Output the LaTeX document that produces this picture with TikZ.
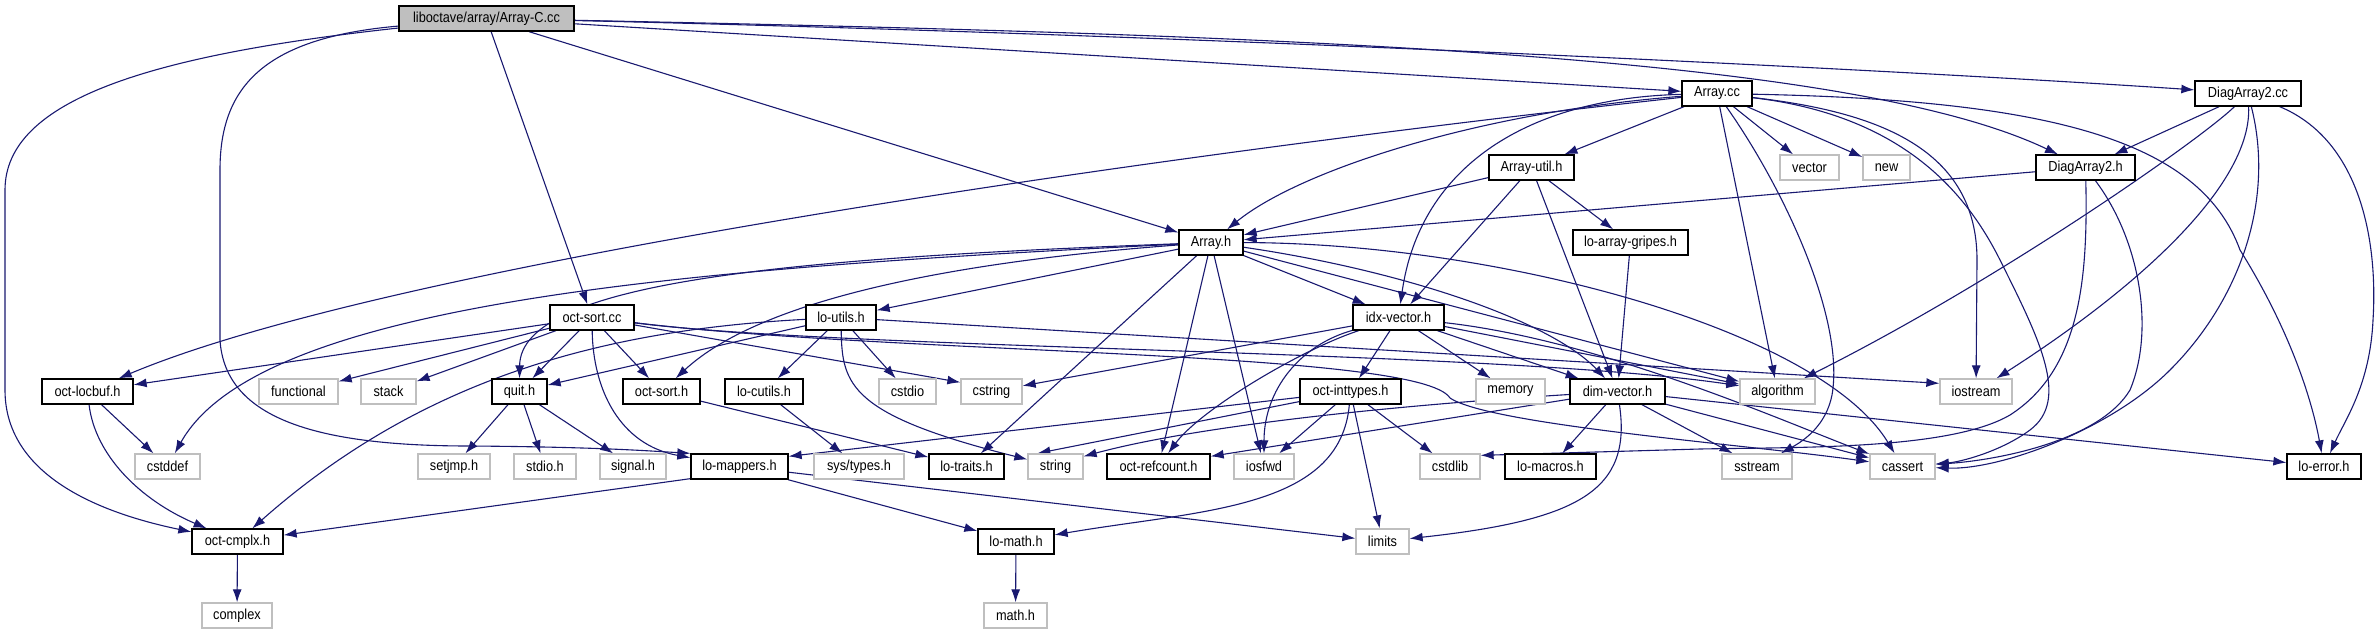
\documentclass[tikz,border=0pt]{standalone}
\usepackage{fontspec}
\setmainfont{Liberation Sans}[FakeStretch=0.88]
\usetikzlibrary{arrows.meta}
\definecolor{edgec}{HTML}{191970}
\definecolor{greyc}{HTML}{BFBFBF}
\pgfdeclarelayer{bg}
\pgfsetlayers{bg,main}
\begin{document}
\begin{tikzpicture}[x=1pt,y=-1pt,
  box/.style={rectangle, inner sep=0pt, minimum height=25pt, font=\fontsize{14.5pt}{16pt}\selectfont, line width=1.3pt, fill=white},
  doc/.style={box, draw=black},
  sys/.style={box, draw=greyc},
  root/.style={box, draw=black, fill=greyc},
  edg/.style={draw=edgec, line width=1.1pt, -{Latex[length=13pt,width=9pt]}}]
\useasboundingbox (0,0) rectangle (2380,635);
% row 0-4
\node[root, minimum width=175] (lib) at (486.5,18.5) {liboctave/array/Array-C.cc};
\node[doc, minimum width=70] (arraycc) at (1717,93.5) {Array.cc};
\node[doc, minimum width=106] (diagcc) at (2248,93.5) {DiagArray2.cc};
\node[doc, minimum width=85] (arrutil) at (1531.5,167.5) {Array-util.h};
\node[sys, minimum width=59] (vector) at (1809.5,167.5) {vector};
\node[sys, minimum width=47] (new) at (1886.5,167.5) {new};
\node[doc, minimum width=99] (diagh) at (2085.5,167.5) {DiagArray2.h};
\node[doc, minimum width=64] (arrayh) at (1211,242.5) {Array.h};
\node[doc, minimum width=115] (gripes) at (1630.5,242.5) {lo-array-gripes.h};
\node[doc, minimum width=84] (octsortcc) at (592,317.5) {oct-sort.cc};
\node[doc, minimum width=70] (loutils) at (841,317.5) {lo-utils.h};
\node[doc, minimum width=91] (idxvec) at (1398.5,317.5) {idx-vector.h};
% row 5
\node[doc, minimum width=91] (octlocbuf) at (87.5,391.5) {oct-locbuf.h};
\node[sys, minimum width=79] (functional) at (298.5,391.5) {functional};
\node[sys, minimum width=55] (stack) at (388.5,391.5) {stack};
\node[doc, minimum width=55] (quith) at (519.5,391.5) {quit.h};
\node[doc, minimum width=77] (octsorth) at (661.5,391.5) {oct-sort.h};
\node[doc, minimum width=78] (locutils) at (764,391.5) {lo-cutils.h};
\node[sys, minimum width=57] (cstdio) at (907.5,391.5) {cstdio};
\node[sys, minimum width=61] (cstring) at (991.5,391.5) {cstring};
\node[doc, minimum width=101] (inttypes) at (1350.5,391.5) {oct-inttypes.h};
\node[sys, minimum width=69] (memory) at (1510.5,391.5) {memory};
\node[doc, minimum width=95] (dimvec) at (1617.5,391.5) {dim-vector.h};
\node[sys, minimum width=75] (algorithm) at (1777.5,391.5) {algorithm};
\node[sys, minimum width=72] (iostream) at (1976,391.5) {iostream};
% row 6
\node[sys, minimum width=65] (cstddef) at (167.5,466.5) {cstddef};
\node[sys, minimum width=72] (setjmp) at (454,466.5) {setjmp.h};
\node[sys, minimum width=62] (stdio) at (545,466.5) {stdio.h};
\node[sys, minimum width=66] (signal) at (633,466.5) {signal.h};
\node[doc, minimum width=97] (lomappers) at (739.5,466.5) {lo-mappers.h};
\node[sys, minimum width=90] (systypes) at (859,466.5) {sys/types.h};
\node[doc, minimum width=75] (lotraits) at (966.5,466.5) {lo-traits.h};
\node[sys, minimum width=55] (string) at (1055.5,466.5) {string};
\node[doc, minimum width=103] (refcount) at (1158.5,466.5) {oct-refcount.h};
\node[sys, minimum width=60] (iosfwd) at (1264,466.5) {iosfwd};
\node[sys, minimum width=60] (cstdlib) at (1450,466.5) {cstdlib};
\node[doc, minimum width=91] (lomacros) at (1550.5,466.5) {lo-macros.h};
\node[sys, minimum width=70] (sstream) at (1757,466.5) {sstream};
\node[sys, minimum width=65] (cassert) at (1902.5,466.5) {cassert};
\node[doc, minimum width=74] (loerror) at (2324,466.5) {lo-error.h};
% row 7-8
\node[doc, minimum width=91] (cmplx) at (237.5,541.5) {oct-cmplx.h};
\node[doc, minimum width=76] (lomath) at (1016,541.5) {lo-math.h};
\node[sys, minimum width=53] (limits) at (1382.5,541.5) {limits};
\node[sys, minimum width=70] (complex) at (237,615.5) {complex};
\node[sys, minimum width=63] (mathh) at (1015.5,615.5) {math.h};

\begin{pgfonlayer}{bg}
% root
\draw[edg] (lib) -- (arrayh);
\draw[edg] (lib) -- (octsortcc);
\draw[edg] (lib) -- (arraycc);
\draw[edg] (lib) .. controls (1200,35) and (1900,70) .. (diagcc);
\draw[edg] (lib) .. controls (1300,35) and (1850,55) .. (diagh);
\draw[edg] (lib) .. controls (260,38) and (220,90) .. (220,170) -- (220,340) .. controls (225,420) and (320,446) .. (470,446) .. controls (600,447) and (650,451) .. (lomappers.north west);
\draw[edg] (lib) .. controls (150,55) and (5,100) .. (5,190) -- (5,390) .. controls (5,480) and (110,515) .. (cmplx);
% Array.cc
\draw[edg] (arraycc) .. controls (1480,112) and (1300,170) .. (arrayh);
\draw[edg] (arraycc) .. controls (1530,98) and (1420,165) .. (idxvec);
\draw[edg] (arraycc) .. controls (1200,150) and (400,260) .. (octlocbuf);
\draw[edg] (arraycc) -- (arrutil);
\draw[edg] (arraycc) -- (vector);
\draw[edg] (arraycc) -- (new);
\draw[edg] (arraycc) -- (algorithm);
\draw[edg] (arraycc) .. controls (1785,190) and (1845,320) .. (1832,395) .. controls (1826,425) and (1805,440) .. (sstream);
\draw[edg] (arraycc) .. controls (1880,112) and (1977,150) .. (1977,260) -- (iostream);
\draw[edg] (arraycc) .. controls (1900,115) and (1965,190) .. (2000,260) .. controls (2040,340) and (2070,400) .. (2030,430) .. controls (2000,452) and (1960,462) .. (cassert);
\draw[edg] (arraycc) .. controls (2050,100) and (2200,140) .. (2240,250) .. controls (2290,330) and (2312,400) .. (loerror);
% DiagArray2.cc
\draw[edg] (diagcc) -- (diagh);
\draw[edg] (diagcc) .. controls (2200,140) and (2000,280) .. (algorithm);
\draw[edg] (diagcc) .. controls (2252,180) and (2150,280) .. (iostream);
\draw[edg] (diagcc) .. controls (2275,200) and (2240,300) .. (2170,370) .. controls (2110,430) and (2000,470) .. (cassert);
\draw[edg] (diagcc) .. controls (2360,140) and (2378,240) .. (2373,320) .. controls (2370,385) and (2345,420) .. (loerror);
% DiagArray2.h
\draw[edg] (diagh) -- (arrayh);
\draw[edg] (diagh) .. controls (2088,280) and (2080,370) .. (2010,415) .. controls (1950,450) and (1800,447) .. (1700,449) -- ([yshift=-2pt]cstdlib.north east);
\draw[edg] (diagh) .. controls (2140,240) and (2155,330) .. (2130,390) .. controls (2100,440) and (2000,460) .. (cassert);
% Array-util.h
\draw[edg] (arrutil) -- (arrayh);
\draw[edg] (arrutil) -- (idxvec);
\draw[edg] (arrutil) -- (dimvec);
\draw[edg] (arrutil) -- (gripes);
% Array.h
\draw[edg] (arrayh) -- (loutils);
\draw[edg] (arrayh) .. controls (800,258) and (520,280) .. (quith);
\draw[edg] (arrayh) .. controls (700,268) and (260,300) .. (cstddef);
\draw[edg] (arrayh) .. controls (950,262) and (760,300) .. (octsorth);
\draw[edg] (arrayh) -- (lotraits);
\draw[edg] (arrayh) -- (refcount);
\draw[edg] (arrayh) -- (iosfwd);
\draw[edg] (arrayh) -- (idxvec);
\draw[edg] (arrayh) .. controls (1400,270) and (1550,320) .. (dimvec);
\draw[edg] (arrayh) -- (algorithm);
\draw[edg] (arrayh) .. controls (1500,243) and (1820,330) .. (cassert);
% idx-vector.h
\draw[edg] (idxvec) -- (cstring);
\draw[edg] (idxvec) .. controls (1300,350) and (1200,410) .. (refcount);
\draw[edg] (idxvec) .. controls (1300,345) and (1264,390) .. (iosfwd);
\draw[edg] (idxvec) -- (inttypes);
\draw[edg] (idxvec) -- (memory);
\draw[edg] (idxvec) -- (dimvec);
\draw[edg] (idxvec) -- (algorithm);
\draw[edg] (idxvec) .. controls (1600,340) and (1780,420) .. (cassert);
% oct-inttypes.h
\draw[edg] (inttypes) -- ([yshift=-3pt]lomappers.north east);
\draw[edg] (inttypes) -- ([xshift=10pt]string.north west);
\draw[edg] (inttypes) -- (iosfwd);
\draw[edg] (inttypes) -- (cstdlib);
\draw[edg] (inttypes) -- (limits);
\draw[edg] (inttypes) .. controls (1340,510) and (1200,510) .. (lomath);
% dim-vector.h
\draw[edg] (dimvec) -- (lomacros);
\draw[edg] (dimvec) .. controls (1632,490) and (1580,520) .. (limits);
\draw[edg] (dimvec) -- ([yshift=-3pt]refcount.north east);
\draw[edg] (dimvec) .. controls (1400,405) and (1200,425) .. ([yshift=-3pt]string.north east);
\draw[edg] (dimvec) -- (sstream);
\draw[edg] (dimvec) -- (cassert);
\draw[edg] (dimvec) -- (loerror);
% lo-array-gripes.h
\draw[edg] (gripes) -- (dimvec);
% oct-sort.cc
\draw[edg] (octsortcc) -- (octlocbuf);
\draw[edg] (octsortcc) -- (functional);
\draw[edg] (octsortcc) -- (stack);
\draw[edg] (octsortcc) -- (quith);
\draw[edg] (octsortcc) -- (octsorth);
\draw[edg] (octsortcc) .. controls (593,390) and (620,445) .. (lomappers);
\draw[edg] (octsortcc) -- ([yshift=-4pt]cstring.north west);
\draw[edg] (octsortcc) .. controls (850,350) and (1500,350) .. (algorithm);
\draw[edg] (octsortcc) .. controls (900,355) and (1420,350) .. (1450,398) .. controls (1490,425) and (1750,445) .. (cassert);
% lo-utils.h
\draw[edg] (loutils) -- (quith);
\draw[edg] (loutils) .. controls (600,330) and (420,380) .. (cmplx);
\draw[edg] (loutils) -- (locutils);
\draw[edg] (loutils) -- (cstdio);
\draw[edg] (loutils) .. controls (842,385) and (850,415) .. (string);
\draw[edg] (loutils) -- ([yshift=-5pt]iostream.north west);
% others
\draw[edg] (octlocbuf) -- (cstddef);
\draw[edg] (octlocbuf) .. controls (95,455) and (140,500) .. (cmplx);
\draw[edg] (quith) -- (setjmp);
\draw[edg] (quith) -- (stdio);
\draw[edg] (quith) -- (signal);
\draw[edg] (locutils) -- (systypes);
\draw[edg] (octsorth) -- (lotraits);
\draw[edg] ([yshift=1pt]lomappers.south west) -- (cmplx);
\draw[edg] (lomappers) -- (lomath);
\draw[edg] (lomappers) -- (limits);
\draw[edg] (cmplx) -- (complex);
\draw[edg] (lomath) -- (mathh);
\end{pgfonlayer}
\end{tikzpicture}
\end{document}
